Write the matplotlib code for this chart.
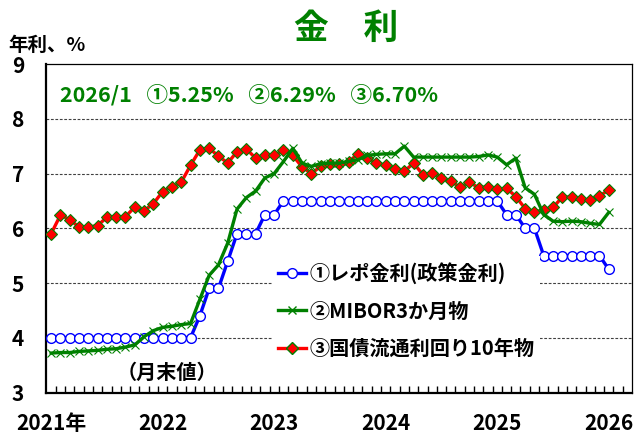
import numpy as np
import matplotlib.pyplot as plt
from matplotlib.lines import Line2D

plt.rcParams['font.family'] = ['Noto Sans CJK JP', 'DejaVu Sans']
plt.rcParams['font.weight'] = 'bold'

# monthly, 2021/1 .. 2026/1 (month-end values)
repo = [4.00, 4.00, 4.00, 4.00, 4.00, 4.00, 4.00, 4.00, 4.00, 4.00, 4.00, 4.00,
        4.00, 4.00, 4.00, 4.00, 4.40, 4.90, 4.90, 5.40, 5.90, 5.90, 5.90, 6.25,
        6.25, 6.50, 6.50, 6.50, 6.50, 6.50, 6.50, 6.50, 6.50, 6.50, 6.50, 6.50,
        6.50, 6.50, 6.50, 6.50, 6.50, 6.50, 6.50, 6.50, 6.50, 6.50, 6.50, 6.50,
        6.50, 6.25, 6.25, 6.00, 6.00, 5.50, 5.50, 5.50, 5.50, 5.50, 5.50, 5.50,
        5.25]
mibor = [3.72, 3.73, 3.73, 3.75, 3.76, 3.77, 3.79, 3.80, 3.83, 3.87, 4.02, 4.13,
         4.19, 4.21, 4.24, 4.26, 4.70, 5.14, 5.33, 5.73, 6.35, 6.56, 6.68, 6.92,
         7.00, 7.22, 7.46, 7.19, 7.13, 7.18, 7.19, 7.19, 7.22, 7.25, 7.33, 7.35,
         7.36, 7.36, 7.50, 7.30, 7.30, 7.30, 7.30, 7.30, 7.30, 7.30, 7.31, 7.34,
         7.30, 7.16, 7.28, 6.74, 6.62, 6.25, 6.13, 6.12, 6.13, 6.12, 6.09, 6.07,
         6.29]
gsec10 = [5.90, 6.24, 6.16, 6.02, 6.02, 6.05, 6.20, 6.21, 6.21, 6.39, 6.32, 6.45,
          6.67, 6.76, 6.84, 7.15, 7.43, 7.46, 7.32, 7.19, 7.40, 7.45, 7.28, 7.33,
          7.33, 7.43, 7.33, 7.12, 7.00, 7.13, 7.18, 7.18, 7.21, 7.36, 7.28, 7.19,
          7.15, 7.08, 7.04, 7.19, 6.98, 7.01, 6.92, 6.86, 6.75, 6.84, 6.74, 6.76,
          6.71, 6.73, 6.58, 6.36, 6.30, 6.33, 6.38, 6.57, 6.57, 6.53, 6.51, 6.59,
          6.70]
year_labels = ['2021年', '2022', '2023', '2024', '2025', '2026']
names = ['①レポ金利(政策金利)', '②MIBOR3か月物', '③国債流通利回り10年物']

x = np.arange(len(repo))
n_cat = 63  # axis runs through 2026/3

fig = plt.figure(figsize=(6.35, 4.34), dpi=100)
ax = fig.add_axes([0.0732, 0.0956, 0.9221, 0.7569])

blue, green, red = '#0000FF', '#008000', '#FF0000'

ax.plot(x, repo, color=blue, lw=2.4, marker='o', ms=7, mfc='white', mec=blue, mew=1.0, zorder=3)
ax.plot(x, gsec10, color=red, lw=2.4, marker='D', ms=6.5, mfc=red, mec=green, mew=0.8, zorder=4)
ax.plot(x, mibor, color=green, lw=2.4, marker='x', ms=6, mec=green, mew=0.8, zorder=5)

ax.set_xlim(-0.5, n_cat - 0.5)
ax.set_ylim(3, 9)
ax.set_yticks(range(3, 10))
ax.set_xticks(np.arange(0, 61, 12))
ax.set_xticklabels(year_labels)
ax.tick_params(axis='x', which='major', length=0, pad=15, labelsize=15)
ax.tick_params(axis='y', length=0, pad=16, labelsize=15)
for lb in ax.get_xticklabels() + ax.get_yticklabels():
    lb.set_fontweight('bold')

# month tick marks between categories, pointing inward
ax.vlines(np.arange(0.5, n_cat - 0.5, 1), 3, 3.11, color='black', lw=1.0, zorder=6)

for v in range(4, 9):
    ax.axhline(v, color='#404040', lw=0.8, ls=(0, (2.5, 1.5)), zorder=1)

for s in ['left', 'bottom']:
    ax.spines[s].set_linewidth(1.6)
for s in ['top', 'right']:
    ax.spines[s].set_linewidth(0.9)

fig.text(0.545, 0.934, '金　利', color=green, fontsize=25, fontweight='bold', ha='center', va='center')
fig.text(0.013, 0.896, '年利、%', fontsize=14, fontweight='bold', ha='left', va='center')

ax.text(0.023, 0.906, '2026/1   ①5.25%   ②6.29%   ③6.70%', transform=ax.transAxes,
        color=green, fontsize=15.5, fontweight='bold', ha='left', va='center')
ax.text(0.206, 0.062, '（月末値）', transform=ax.transAxes,
        fontsize=14.5, fontweight='bold', ha='center', va='center')

handles = [
    Line2D([], [], color=blue, lw=2.4, marker='o', ms=7, mfc='white', mec=blue),
    Line2D([], [], color=green, lw=2.4, marker='x', ms=6, mec=green),
    Line2D([], [], color=red, lw=2.4, marker='D', ms=6.5, mfc=red, mec=green),
]
leg = ax.legend(handles, names, loc='upper left', bbox_to_anchor=(0.368, 0.445),
                frameon=True, fancybox=False, edgecolor='none', facecolor='white', framealpha=1,
                handlelength=1.4, handletextpad=0.15, labelspacing=0.8, borderpad=0.3,
                prop={'size': 14.5, 'weight': 'bold'})
leg.set_zorder(7)

fig.savefig('out.png', dpi=100)
